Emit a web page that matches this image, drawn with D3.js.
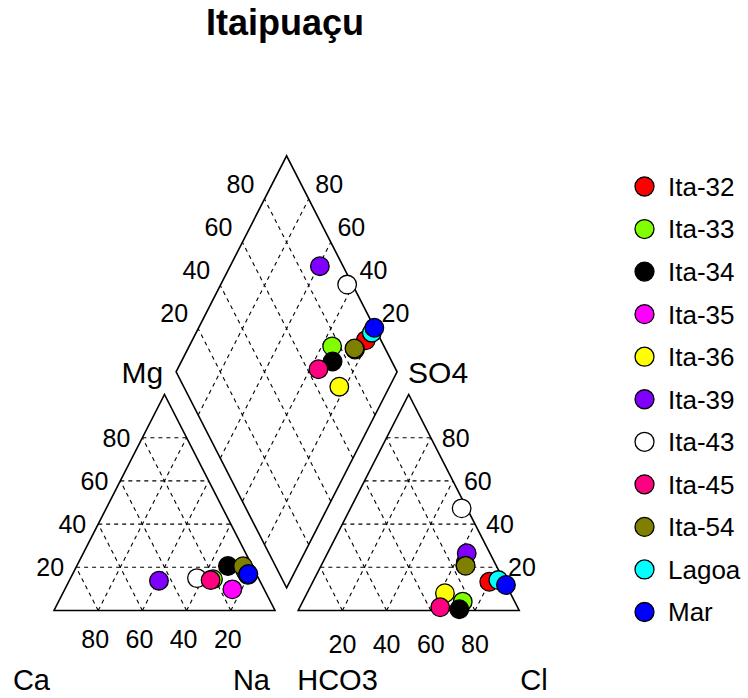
<!DOCTYPE html>
<html><head><meta charset="utf-8">
<script src="https://cdn.jsdelivr.net/npm/d3@7"></script>
<style>body{margin:0;background:#fff}svg{display:block}text{font-family:"Liberation Sans",Arial,sans-serif;fill:#000}</style>
</head><body>
<script>
const samples = ["Ita-32","Ita-33","Ita-34","Ita-35","Ita-36","Ita-39","Ita-43","Ita-45","Ita-54","Lagoa","Mar"];
const colors  = ["#FF0000","#80FF00","#000000","#FF00FF","#FFFF00","#8000FF","#FFFFFF","#FF0080","#808000","#00FFFF","#0000FF"];
const Ca   = [4.0, 20.8, 11.0, 14.4, 4.2, 45.6, 27.8, 22.1, 4.2, 4.0, 3.6];
const Mg   = [17.5, 14.5, 20.6, 9.8, 18.5, 13.8, 15.0, 14.1, 20.5, 16.5, 16.9];
const Na   = [78.5, 64.7, 68.4, 75.8, 77.3, 40.6, 57.2, 63.8, 75.3, 79.5, 79.5];
const HCO3 = [6.9, 23.5, 26.8, 13.9, 29.6, 10.5, 2.4, 35.0, 13.9, 2.4, 0.1];
const SO4  = [13.3, 4.1, 0.6, 21.0, 8.0, 26.5, 47.3, 1.5, 20.7, 14.1, 11.8];
const Cl   = [79.8, 72.4, 72.6, 65.1, 62.4, 63.0, 50.3, 63.5, 65.4, 83.5, 88.1];
const ticks = [20, 40, 60, 80];
const title = "Itaipuaçu";

const W = 748, Hpx = 698;
const svg = d3.select("body").append("svg").attr("width", W).attr("height", Hpx);
const g = 0.105, H = Math.sqrt(3) / 2;
const x = d3.scaleLinear().domain([0, 2 + g]).range([54, 54 + (2 + g) * 221]);
const y = d3.scaleLinear().domain([0, H]).range([610.5, 394.5]);

const cat = (ca, mg, na) => [x(na / 100 + mg / 200), y(mg / 100 * H)];
const an = (hc, so, cl) => [x(1 + g + cl / 100 + so / 200), y(so / 100 * H)];
const dia = (A, C) => [x(1 + g / 2 + (A - C) / 2), y(g * H + (A + C) * H)];

const line = d3.line();
const grid = svg.append("g").attr("fill", "none").attr("stroke", "#000").attr("stroke-width", 1.1).attr("stroke-dasharray", "4,4");
const seg = (a, b) => grid.append("path").attr("d", line([a, b]));
ticks.forEach(k => {
  seg(cat(100 - k, k, 0), cat(0, k, 100 - k));
  seg(cat(100 - k, 0, k), cat(0, 100 - k, k));
  seg(cat(k, 0, 100 - k), cat(k, 100 - k, 0));
  seg(an(100 - k, k, 0), an(0, k, 100 - k));
  seg(an(100 - k, 0, k), an(0, 100 - k, k));
  seg(an(k, 0, 100 - k), an(k, 100 - k, 0));
  seg(dia(k / 100, 0), dia(k / 100, 1));
  seg(dia(0, k / 100), dia(1, k / 100));
});

const outl = svg.append("g").attr("fill", "none").attr("stroke", "#000").attr("stroke-width", 1.6);
outl.append("path").attr("d", line([cat(100, 0, 0), cat(0, 0, 100), cat(0, 100, 0)]) + "Z");
outl.append("path").attr("d", line([an(100, 0, 0), an(0, 0, 100), an(0, 100, 0)]) + "Z");
outl.append("path").attr("d", line([dia(0, 0), dia(1, 0), dia(1, 1), dia(0, 1)]) + "Z");

const lab = svg.append("g").attr("font-size", 25);
ticks.forEach(k => {
  let p = cat(100 - k, k, 0);
  lab.append("text").attr("x", p[0] - 12).attr("y", p[1]).attr("dy", "0.36em").attr("text-anchor", "end").text(k);
  p = cat(k, 0, 100 - k);
  lab.append("text").attr("x", p[0] - 3).attr("y", 638.5).attr("dy", "0.36em").attr("text-anchor", "middle").text(k);
  p = an(0, k, 100 - k);
  lab.append("text").attr("x", p[0] + 11).attr("y", p[1]).attr("dy", "0.36em").attr("text-anchor", "start").text(k);
  p = an(100 - k, 0, k);
  lab.append("text").attr("x", p[0]).attr("y", 644).attr("dy", "0.36em").attr("text-anchor", "middle").text(k);
  p = dia(k / 100, 1);
  lab.append("text").attr("x", p[0] - 24).attr("y", p[1] - 15.5).attr("dy", "0.36em").attr("text-anchor", "middle").text(k);
  p = dia(1, k / 100);
  lab.append("text").attr("x", p[0] + 20.5).attr("y", p[1] - 15.5).attr("dy", "0.36em").attr("text-anchor", "middle").text(k);
});

const big = svg.append("g").attr("font-size", 30);
const L = dia(0, 1), R = dia(1, 0);
big.append("text").attr("x", L[0] - 13).attr("y", L[1]).attr("dy", "0.36em").attr("text-anchor", "end").text("Mg");
big.append("text").attr("x", R[0] + 11).attr("y", R[1]).attr("dy", "0.36em").attr("text-anchor", "start").text("SO4");
const bot = svg.append("g").attr("font-size", 29);
bot.append("text").attr("x", cat(100, 0, 0)[0] - 4).attr("y", 690).attr("text-anchor", "end").text("Ca");
bot.append("text").attr("x", cat(0, 0, 100)[0] - 5).attr("y", 690).attr("text-anchor", "end").text("Na");
bot.append("text").attr("x", an(100, 0, 0)[0] - 1).attr("y", 690).attr("text-anchor", "start").text("HCO3");
bot.append("text").attr("x", an(0, 0, 100)[0] + 1).attr("y", 690).attr("text-anchor", "start").text("Cl");

svg.append("text").attr("x", 285).attr("y", 35).attr("text-anchor", "middle").attr("font-size", 36).attr("font-weight", "bold").text(title);

const idx = d3.range(samples.length);
const pts = svg.append("g").attr("stroke", "#000").attr("stroke-width", 1.3);
const drawSet = pos => idx.forEach(i => {
  const p = pos(i);
  pts.append("circle").attr("cx", p[0]).attr("cy", p[1]).attr("r", 9.3).attr("fill", colors[i]);
});
drawSet(i => cat(Ca[i], Mg[i], Na[i]));
drawSet(i => an(HCO3[i], SO4[i], Cl[i]));
drawSet(i => dia((SO4[i] + Cl[i]) / 100, (Ca[i] + Mg[i]) / 100));

const ly = d3.scalePoint().domain(samples).range([186.5, 612]);
const leg = svg.append("g");
samples.forEach((s, i) => {
  leg.append("circle").attr("cx", 644.5).attr("cy", ly(s)).attr("r", 9.5).attr("fill", colors[i]).attr("stroke", "#000").attr("stroke-width", 1.3);
  leg.append("text").attr("x", 668).attr("y", ly(s)).attr("dy", "0.36em").attr("font-size", 26).text(s);
});
</script>
</body></html>
